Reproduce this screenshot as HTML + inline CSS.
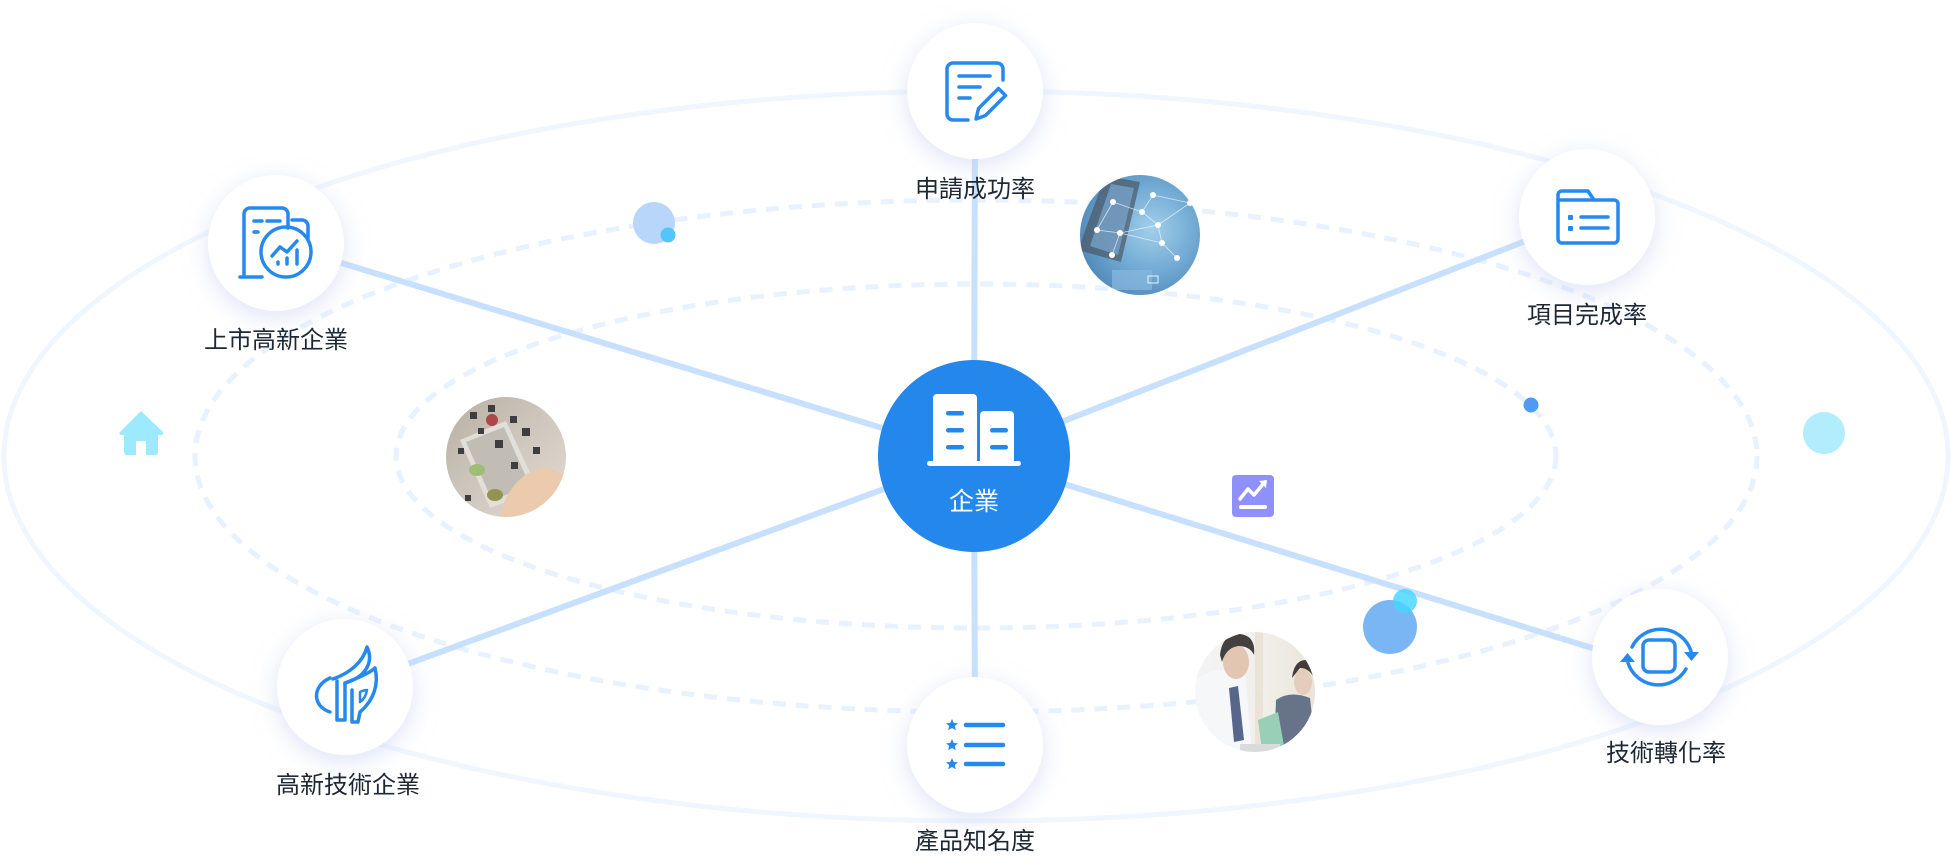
<!DOCTYPE html>
<html>
<head>
<meta charset="utf-8">
<style>
html,body{margin:0;padding:0;background:#fff;}
body{width:1951px;height:863px;overflow:hidden;}
svg{display:block;}
.lbl{font-family:"Liberation Sans","Noto Sans CJK TC","Noto Sans CJK SC",sans-serif;font-size:24px;fill:#1e2834;}
</style>
</head>
<body>
<svg width="1951" height="863" viewBox="0 0 1951 863" xmlns="http://www.w3.org/2000/svg">
<defs>
  <filter id="sh" x="-60%" y="-60%" width="220%" height="220%">
    <feDropShadow dx="0" dy="6" stdDeviation="12" flood-color="#c3cef0" flood-opacity="0.55"/>
  </filter>
  <clipPath id="c1"><circle cx="1140" cy="235" r="60"/></clipPath>
  <clipPath id="c2"><circle cx="506" cy="457" r="60"/></clipPath>
  <clipPath id="c3"><circle cx="1255" cy="692" r="60"/></clipPath>
  <radialGradient id="g1" cx="0.6" cy="0.45" r="0.6">
    <stop offset="0" stop-color="#9ccbea"/>
    <stop offset="0.6" stop-color="#65a3d0"/>
    <stop offset="1" stop-color="#4683b6"/>
  </radialGradient>
  <linearGradient id="g2" x1="0" y1="0" x2="1" y2="1">
    <stop offset="0" stop-color="#b2a89c"/>
    <stop offset="0.5" stop-color="#cbc3b8"/>
    <stop offset="1" stop-color="#e2d9cf"/>
  </linearGradient>
  <linearGradient id="g3" x1="0" y1="0" x2="1" y2="0">
    <stop offset="0" stop-color="#f3f4f5"/>
    <stop offset="0.6" stop-color="#f1eee8"/>
    <stop offset="1" stop-color="#e9e3d8"/>
  </linearGradient>
</defs>

<!-- orbits -->
<ellipse cx="976" cy="456" rx="972" ry="365" fill="none" stroke="#f0f6fe" stroke-width="5"/>
<ellipse cx="976" cy="456" rx="781" ry="256" fill="none" stroke="#e8f1fe" stroke-width="5" stroke-dasharray="13 10"/>
<ellipse cx="976" cy="456" rx="580" ry="172" fill="none" stroke="#e8f1fe" stroke-width="5" stroke-dasharray="13 10"/>

<!-- connectors -->
<g stroke="#c6e0fd" stroke-width="6" stroke-linecap="round">
  <line x1="974" y1="456" x2="975" y2="110"/>
  <line x1="974" y1="456" x2="276" y2="243"/>
  <line x1="974" y1="456" x2="1587" y2="217"/>
  <line x1="974" y1="456" x2="345" y2="687"/>
  <line x1="974" y1="456" x2="975" y2="730"/>
  <line x1="974" y1="456" x2="1650" y2="666"/>
</g>

<!-- decorations -->
<g fill="#9de9fd">
  <path d="M141 411 L163 432 Q164 435 160 435 L158 435 L158 452 Q158 455 155 455 L146 455 L146 441 L136 441 L136 455 L127 455 Q124 455 124 452 L124 435 L122 435 Q118 435 120 432 Z"/>
</g>
<circle cx="654" cy="223" r="21" fill="#b8d6f9"/>
<circle cx="668" cy="235" r="7.5" fill="#52c6fb"/>
<circle cx="1531" cy="405" r="7.5" fill="#4f9bf0"/>
<circle cx="1824" cy="433" r="21" fill="#b1edfc"/>
<rect x="1232" y="475" width="42" height="42" rx="4" fill="#8f90fb"/>
<path d="M1240 499 L1248 489 L1254 495 L1264 483" fill="none" stroke="#fff" stroke-width="3.5" stroke-linejoin="round" stroke-linecap="round"/>
<path d="M1259 481 L1267 480 L1266 488 Z" fill="#fff"/>
<rect x="1239" y="505" width="28" height="4" rx="2" fill="#fff"/>
<circle cx="1390" cy="627" r="27" fill="#7ab5f4"/>
<circle cx="1405" cy="601" r="12" fill="#46d6fd" fill-opacity="0.82"/>

<!-- photo: network -->
<g clip-path="url(#c1)" opacity="0.92">
  <rect x="1080" y="175" width="120" height="120" fill="url(#g1)"/>
  <path d="M1105 176 L1140 182 L1121 262 L1078 250 Z" fill="#3c4a58" opacity="0.7"/>
  <path d="M1111 184 L1134 188 L1118 255 L1090 246 Z" fill="#6a9ac2" opacity="0.8"/>
  <rect x="1112" y="270" width="40" height="20" fill="#7fb3dc" opacity="0.7"/>
  <g stroke="#e8f4ff" stroke-width="0.8" opacity="0.8">
    <line x1="1113" y1="202" x2="1142" y2="212"/><line x1="1142" y1="212" x2="1153" y2="195"/>
    <line x1="1142" y1="212" x2="1158" y2="225"/><line x1="1158" y1="225" x2="1190" y2="203"/>
    <line x1="1097" y1="230" x2="1120" y2="233"/><line x1="1120" y1="233" x2="1158" y2="225"/>
    <line x1="1120" y1="233" x2="1112" y2="255"/><line x1="1158" y1="225" x2="1162" y2="243"/>
    <line x1="1162" y1="243" x2="1177" y2="258"/><line x1="1120" y1="233" x2="1162" y2="243"/>
    <line x1="1153" y1="195" x2="1190" y2="203"/><line x1="1113" y1="202" x2="1097" y2="230"/>
  </g>
  <g fill="#ffffff">
    <circle cx="1113" cy="202" r="3"/><circle cx="1153" cy="195" r="3"/><circle cx="1142" cy="212" r="3"/>
    <circle cx="1097" cy="230" r="3"/><circle cx="1120" cy="233" r="3"/><circle cx="1158" cy="225" r="3"/>
    <circle cx="1190" cy="203" r="3"/><circle cx="1162" cy="243" r="3"/><circle cx="1177" cy="258" r="3"/>
    <circle cx="1112" cy="255" r="3"/>
  </g>
  <rect x="1148" y="276" width="10" height="7" fill="none" stroke="#e8f4ff" stroke-width="1"/>
</g>

<!-- photo: cards -->
<g clip-path="url(#c2)" opacity="0.92">
  <rect x="446" y="397" width="120" height="120" fill="url(#g2)"/>
  <path d="M460 440 L506 421 L538 490 L490 508 Z" fill="#e0ddd6"/>
  <path d="M466 442 L504 427 L530 486 L492 500 Z" fill="#bdb8ae"/>
  <g fill="#2e2e30">
    <rect x="470" y="412" width="7" height="7"/><rect x="488" y="405" width="7" height="7"/>
    <rect x="510" y="416" width="7" height="7"/><rect x="522" y="428" width="8" height="8"/>
    <rect x="495" y="440" width="8" height="8"/><rect x="458" y="448" width="6" height="6"/>
    <rect x="533" y="447" width="7" height="7"/><rect x="511" y="462" width="7" height="7"/>
    <rect x="548" y="470" width="6" height="6"/><rect x="465" y="495" width="6" height="6"/>
    <rect x="478" y="428" width="6" height="6"/>
  </g>
  <circle cx="492" cy="420" r="6" fill="#a8383a"/>
  <ellipse cx="477" cy="470" rx="8" ry="6" fill="#98b86a"/>
  <ellipse cx="495" cy="495" rx="8" ry="6" fill="#8a8a44"/>
  <path d="M505 500 Q520 470 545 468 Q560 470 566 480 L566 520 L500 520 Z" fill="#ebc6a8"/>
</g>

<!-- photo: business -->
<g clip-path="url(#c3)" opacity="0.95">
  <rect x="1195" y="632" width="120" height="120" fill="url(#g3)"/>
  <rect x="1255" y="632" width="8" height="120" fill="#e8e2d6"/>
  <path d="M1195 680 Q1215 665 1245 672 L1252 752 L1195 752 Z" fill="#f6f7f9"/>
  <ellipse cx="1236" cy="662" rx="13" ry="17" fill="#e2c3ad"/>
  <path d="M1220 655 Q1222 634 1240 634 Q1256 636 1254 655 Q1250 646 1238 646 Q1226 648 1222 662 Z" fill="#3a3636"/>
  <path d="M1229 688 L1238 686 L1244 740 L1234 742 Z" fill="#4e5e84"/>
  <path d="M1276 700 Q1290 690 1310 698 L1316 752 L1274 752 Z" fill="#5f6c82"/>
  <ellipse cx="1303" cy="682" rx="9" ry="13" fill="#e5cbb8"/>
  <path d="M1292 678 Q1294 660 1306 660 Q1316 662 1315 680 Q1310 668 1300 668 Z" fill="#3a3232"/>
  <path d="M1258 720 L1278 712 L1284 746 L1262 750 Z" fill="#94cdb4"/>
  <rect x="1240" y="744" width="40" height="8" fill="#d8dadc"/>
</g>

<!-- nodes -->
<g fill="#ffffff" filter="url(#sh)">
  <circle cx="975" cy="91" r="68"/>
  <circle cx="276" cy="243" r="68"/>
  <circle cx="1587" cy="217" r="68"/>
  <circle cx="345" cy="687" r="68"/>
  <circle cx="975" cy="745" r="68"/>
  <circle cx="1660" cy="657" r="68"/>
</g>

<!-- center -->
<circle cx="974" cy="456" r="96" fill="#2387ec"/>
<g fill="#ffffff">
  <rect x="933" y="394" width="44" height="70" rx="4"/>
  <rect x="980" y="411" width="34" height="53" rx="4"/>
  <rect x="927" y="461" width="94" height="5" rx="2.5"/>
</g>
<g fill="#2387ec">
  <rect x="946" y="411" width="18" height="4.5" rx="2.2"/>
  <rect x="946" y="428" width="18" height="4.5" rx="2.2"/>
  <rect x="946" y="445" width="18" height="4.5" rx="2.2"/>
  <rect x="990" y="428" width="18" height="4.5" rx="2.2"/>
  <rect x="990" y="445" width="18" height="4.5" rx="2.2"/>
</g>
<text x="974" y="510" text-anchor="middle" class="lbl" style="fill:#ffffff;font-size:25px;">企業</text>

<!-- icons -->
<g fill="none" stroke="#2589ee" stroke-width="3.5" stroke-linecap="round" stroke-linejoin="round">
  <!-- edit doc -->
  <path d="M968 120 H953 A6 6 0 0 1 947 114 V69 A6 6 0 0 1 953 63 H997 A6 6 0 0 1 1003 69 V80"/>
  <path d="M959 76 H990 M959 87 H980 M959 98 H970"/>
  <path d="M998.5 88.5 L1005.5 95.5 L985.5 115.5 L976 119 L978.5 108.5 Z"/>

  <!-- listed enterprise -->
  <path d="M262 277 H240 M244 277 V214 A6 6 0 0 1 250 208 H282 A6 6 0 0 1 288 214 V228"/>
  <path d="M292 220 H302 A6 6 0 0 1 308 226 V240"/>
  <circle cx="286" cy="252" r="25"/>
  <path d="M254 221 H262 M267 221 H280 M254 232 H258"/>
  <path d="M272 256 L280 247 L287 252 L297 241"/>
  <path d="M278 262 V264 M287 258 V264 M297 250 V264"/>

  <!-- folder -->
  <path d="M1558 239 V195 A4 4 0 0 1 1562 191 H1588 L1594 200 H1614 A4 4 0 0 1 1618 204 V239 A4 4 0 0 1 1614 243 H1562 A4 4 0 0 1 1558 239 Z"/>
  <path d="M1559 200 H1593"/>
  <path d="M1581 217 H1608 M1581 228 H1608"/>

  <!-- leaf/wing -->
  <path d="M333 679 C350 673 363 662 367 647 C374 662 366 677 345 683"/>
  <path d="M345 683 C358 678 370 673 375 668 C379 684 374 700 360 712 L358 722 H352 V690"/>
  <path d="M330 678 C312 686 312 706 330 712"/>
  <path d="M337 681 V720 H345 V684"/>
  <path d="M360 692 C364 690 367 690 367 690 C366 696 363 700 360 702 Z" stroke-width="2.5"/>

  <!-- star list lines -->
  <path d="M966 725 H1003 M966 745 H1003 M966 764 H1003" stroke-width="4.5"/>

  <!-- rotate -->
  <rect x="1643" y="640" width="32" height="32" rx="6"/>
  <path d="M1632 647 A32 32 0 0 1 1691 651"/>
  <path d="M1686 669 A32 32 0 0 1 1628 663"/>
</g>
<g fill="#2589ee">
  <path d="M1684 652 L1699 652 L1691.5 661 Z"/>
  <path d="M1620 662 L1635 662 L1627.5 653 Z"/>
  <path d="M952 719 L953.8 723 L958 723.3 L954.8 726 L955.8 730.2 L952 728 L948.2 730.2 L949.2 726 L946 723.3 L950.2 723 Z"/>
  <path d="M952 739 L953.8 743 L958 743.3 L954.8 746 L955.8 750.2 L952 748 L948.2 750.2 L949.2 746 L946 743.3 L950.2 743 Z"/>
  <path d="M952 758 L953.8 762 L958 762.3 L954.8 765 L955.8 769.2 L952 767 L948.2 769.2 L949.2 765 L946 762.3 L950.2 762 Z"/>
  <rect x="1568" y="215" width="5" height="5" rx="1"/>
  <rect x="1568" y="226" width="5" height="5" rx="1"/>
</g>

<!-- labels -->
<text x="975" y="197" text-anchor="middle" class="lbl">申請成功率</text>
<text x="276" y="348" text-anchor="middle" class="lbl">上市高新企業</text>
<text x="1587" y="323" text-anchor="middle" class="lbl">項目完成率</text>
<text x="348" y="793" text-anchor="middle" class="lbl">高新技術企業</text>
<text x="975" y="849" text-anchor="middle" class="lbl">產品知名度</text>
<text x="1666" y="761" text-anchor="middle" class="lbl">技術轉化率</text>
</svg>
</body>
</html>
